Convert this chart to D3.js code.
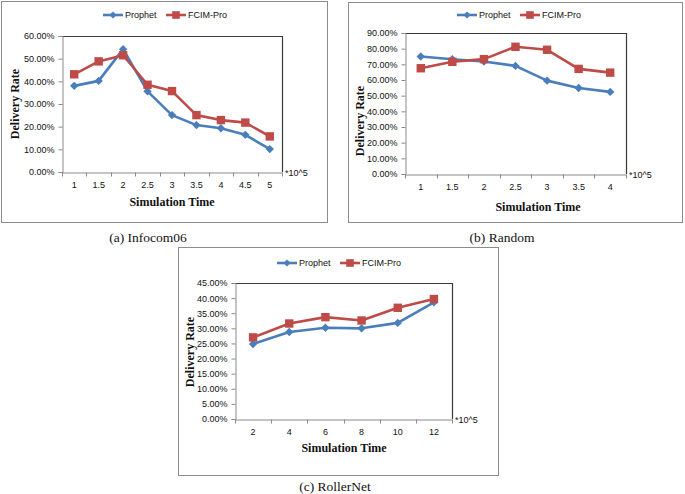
<!DOCTYPE html>
<html><head><meta charset="utf-8">
<script src="https://cdn.jsdelivr.net/npm/d3@7/dist/d3.min.js"></script>
<style>body{margin:0;background:#fff}svg{display:block}</style>
</head><body>
<script>
// ---- data ----
const seriesNames = ["Prophet", "FCIM-Pro"];
const catsA = ["1","1.5","2","2.5","3","3.5","4","4.5","5"];
const prophetA = [0.380, 0.402, 0.542, 0.356, 0.251, 0.207, 0.193, 0.164, 0.101];
const fcimA    = [0.431, 0.488, 0.515, 0.385, 0.357, 0.251, 0.229, 0.218, 0.157];
const yTicksA = [0, 0.1, 0.2, 0.3, 0.4, 0.5, 0.6];

const catsB = ["1","1.5","2","2.5","3","3.5","4"];
const prophetB = [0.750, 0.732, 0.718, 0.690, 0.596, 0.549, 0.524];
const fcimB    = [0.675, 0.716, 0.733, 0.812, 0.793, 0.671, 0.647];
const yTicksB = [0, 0.1, 0.2, 0.3, 0.4, 0.5, 0.6, 0.7, 0.8, 0.9];

const catsC = ["2","4","6","8","10","12"];
const prophetC = [0.248, 0.288, 0.302, 0.300, 0.318, 0.386];
const fcimC    = [0.270, 0.316, 0.337, 0.326, 0.368, 0.397];
const yTicksC = [0, 0.05, 0.10, 0.15, 0.20, 0.25, 0.30, 0.35, 0.40, 0.45];

const captions = ["(a) Infocom06", "(b) Random", "(c) RollerNet"];
const xTitle = "Simulation Time", yTitle = "Delivery Rate", expLabel = "*10^5";

// ---- drawing ----
const W = 685, H = 494;
const svg = d3.select("body").append("svg").attr("width", W).attr("height", H);
const colors = ["#4A7EBB", "#BE4B48"];
const sans = "'Liberation Sans', Arial, sans-serif";
const serif = "'Liberation Serif', 'Times New Roman', serif";

function diamond(g, x, y, r, c) {
  g.append("path").attr("d", `M${x},${y-r}L${x+r},${y}L${x},${y+r}L${x-r},${y}Z`).attr("fill", c);
}
function square(g, x, y, r, c) {
  g.append("rect").attr("x", x-r).attr("y", y-r).attr("width", 2*r).attr("height", 2*r).attr("fill", c);
}

function panel(cfg) {
  const g = svg.append("g");
  // outer frame
  g.append("rect").attr("x", cfg.box[0]+0.5).attr("y", cfg.box[1]+0.5)
    .attr("width", cfg.box[2]-cfg.box[0]).attr("height", cfg.box[3]-cfg.box[1])
    .attr("fill", "none").attr("stroke", "#8c8c8c").attr("stroke-width", 1);

  const x = d3.scaleBand().domain(cfg.cats).range([cfg.px0, cfg.px1]);
  const y = d3.scaleLinear().domain([0, cfg.yMax]).range([cfg.py1, cfg.py0]);

  // plot area border (top/right)
  g.append("path").attr("d", `M${cfg.px0},${cfg.py0+0.5}H${cfg.px1+0.5}V${cfg.py1}`)
    .attr("fill", "none").attr("stroke", "#3a3a3a").attr("stroke-width", 1.2);

  // y axis
  const ya = g.append("g").attr("transform", `translate(${cfg.px0+0.5},0)`)
    .call(d3.axisLeft(y).tickValues(cfg.yTicks).tickFormat(d3.format(".2%")).tickSize(4).tickPadding(4));
  ya.select(".domain").attr("stroke", "#8a8a8a");
  ya.selectAll(".tick line").attr("stroke", "#8a8a8a");
  ya.selectAll("text").attr("font-family", sans).attr("font-size", 9).attr("fill", "#111");

  // x axis
  const xa = g.append("g").attr("transform", `translate(0,${cfg.py1+0.5})`)
    .call(d3.axisBottom(x).tickSize(0).tickPadding(9));
  xa.select(".domain").attr("stroke", "#8a8a8a");
  xa.selectAll("text").attr("font-family", sans).attr("font-size", 9).attr("fill", "#111");
  // category boundary ticks
  const bounds = cfg.cats.map(c => x(c)).concat([x.range()[1]]);
  xa.selectAll(".btick").data(bounds).enter().append("line").attr("class", "btick")
    .attr("x1", d => Math.round(d)+0.5).attr("x2", d => Math.round(d)+0.5)
    .attr("y1", 0).attr("y2", 4).attr("stroke", "#8a8a8a");

  // lines
  const series = [cfg.prophet, cfg.fcim];
  series.forEach((vals, i) => {
    const line = d3.line().x((d, j) => x(cfg.cats[j]) + x.bandwidth()/2).y(d => y(d));
    g.append("path").datum(vals).attr("d", line).attr("fill", "none")
      .attr("stroke", colors[i]).attr("stroke-width", 2.6).attr("stroke-linejoin", "round");
  });
  series.forEach((vals, i) => {
    vals.forEach((v, j) => {
      const cx = x(cfg.cats[j]) + x.bandwidth()/2, cy = y(v);
      if (i === 0) diamond(g, cx, cy, 4.2, colors[0]); else square(g, cx, cy, 4.2, colors[1]);
    });
  });

  // legend
  seriesNames.forEach((n, i) => {
    const lx = cfg.leg[i];
    g.append("line").attr("x1", lx).attr("x2", lx+20).attr("y1", cfg.legY).attr("y2", cfg.legY)
      .attr("stroke", colors[i]).attr("stroke-width", 2.6);
    if (i === 0) diamond(g, lx+10, cfg.legY, 3.6, colors[0]); else square(g, lx+10, cfg.legY, 3.8, colors[1]);
    g.append("text").attr("x", lx+22).attr("y", cfg.legY+3.2).text(n)
      .attr("font-family", sans).attr("font-size", 9).attr("fill", "#111");
  });

  // titles
  g.append("text").attr("transform", `translate(${cfg.yt[0]},${cfg.yt[1]}) rotate(-90)`)
    .attr("text-anchor", "middle").attr("font-family", serif).attr("font-weight", "bold")
    .attr("font-size", 12).attr("fill", "#111").text(yTitle);
  g.append("text").attr("x", cfg.xt[0]).attr("y", cfg.xt[1]).attr("text-anchor", "middle")
    .attr("font-family", serif).attr("font-weight", "bold").attr("font-size", 12).attr("fill", "#111").text(xTitle);
  g.append("text").attr("x", cfg.px1+3).attr("y", cfg.py1+4).attr("font-family", sans)
    .attr("font-size", 9).attr("fill", "#111").text(expLabel);
  g.append("text").attr("x", cfg.cap[0]).attr("y", cfg.cap[1]).attr("text-anchor", "middle")
    .attr("font-family", serif).attr("font-size", 13.5).attr("fill", "#111").text(cfg.caption);
}

panel({box:[1,1,327,222], cats:catsA, prophet:prophetA, fcim:fcimA, yTicks:yTicksA, yMax:0.6,
  px0:62, px1:282, py0:36, py1:172, leg:[103,166], legY:15, yt:[19,104], xt:[172,206],
  cap:[148,242], caption:captions[0]});
panel({box:[348,2,682,222], cats:catsB, prophet:prophetB, fcim:fcimB, yTicks:yTicksB, yMax:0.9,
  px0:405, px1:626, py0:33, py1:174, leg:[457,520], legY:15, yt:[364,121], xt:[538,211],
  cap:[502,242], caption:captions[1]});
panel({box:[178,247,498,475], cats:catsC, prophet:prophetC, fcim:fcimC, yTicks:yTicksC, yMax:0.45,
  px0:235, px1:452, py0:283, py1:419, leg:[277,340], legY:263, yt:[194,352], xt:[344,452],
  cap:[335,491], caption:captions[2]});
</script>
</body></html>
